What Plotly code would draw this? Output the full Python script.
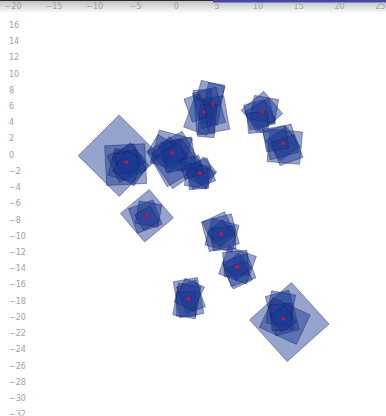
import numpy as np
import plotly.graph_objects as go

# Cluster centres (red markers)
dot_x = [-6.1, -0.5, 2.9, 3.4, 4.5, 10.5, 13.1, -3.6, 5.5, 7.5, 1.5, 13.1]
dot_y = [-0.9, 0.25, -2.3, 5.3, 6.3, 5.3, 1.4, -7.5, -9.75, -13.8, -17.8, -20.2]

# Tiles: centre, width, height, rotation (degrees)
sq_x = [
    -7.0, -6.2, -6.1, -6.3, -5.8, -6.0, -5.6,
    -0.2, -0.6, 0.3, -0.8, -0.5, -1.8, 0.1,
    2.9, 2.6, 3.2, 2.7, 3.3, 1.9,
    4.5, 3.4, 4.0, 4.2, 3.0, 4.9, 3.8, 2.4,
    10.5, 10.2, 10.8, 10.3, 10.0,
    13.3, 12.8, 13.1, 12.2, 13.6,
    -3.6, -3.8, -3.4, -3.6,
    5.4, 5.6, 5.2, 5.8, 5.5,
    7.5, 7.7, 7.3, 7.6, 7.5,
    1.5, 1.3, 1.8, 1.2, 1.6,
    13.85, 13.0, 12.8, 13.3, 12.9, 13.1,
]
sq_y = [
    -0.1, -1.2, -1.0, -1.3, -0.6, -0.9, -1.6,
    -0.5, 0.5, 0.0, 0.0, 0.3, 0.8, -1.1,
    -2.3, -2.6, -2.0, -3.0, -2.6, -1.5,
    6.3, 5.3, 5.8, 7.6, 4.8, 5.0, 4.2, 5.8,
    5.3, 5.0, 5.6, 4.8, 4.0,
    1.0, 1.6, 1.4, 2.0, 0.6,
    -7.5, -7.6, -7.3, -7.8,
    -9.6, -9.9, -9.0, -10.3, -9.7,
    -13.6, -14.2, -13.4, -14.8, -13.8,
    -17.6, -18.0, -17.5, -18.4, -17.2,
    -20.6, -19.5, -19.0, -20.5, -20.0, -20.2,
]
sq_w = [
    7.1, 4.9, 3.6, 3.4, 3.0, 2.6, 3.2,
    5.0, 4.2, 3.8, 3.2, 2.6, 2.5, 4.4,
    3.0, 2.8, 2.5, 2.4, 2.2, 2.4,
    2.0, 2.2, 3.0, 3.0, 3.0, 2.6, 2.0, 2.0,
    3.6, 3.2, 3.0, 2.8, 2.5,
    4.0, 3.6, 3.0, 2.8, 3.0,
    4.6, 3.2, 2.8, 2.2,
    3.8, 3.4, 3.0, 2.8, 2.4,
    3.6, 3.2, 3.0, 2.6, 2.4,
    3.0, 2.8, 2.5, 2.4, 2.6,
    6.9, 3.0, 3.0, 5.0, 2.6, 2.2,
]
sq_h = [
    7.1, 4.9, 3.6, 3.4, 3.0, 2.6, 3.2,
    5.0, 4.2, 3.8, 3.2, 2.6, 2.5, 4.4,
    3.0, 2.8, 2.5, 2.4, 2.2, 2.4,
    5.0, 5.5, 4.5, 2.5, 4.0, 4.2, 4.0, 3.0,
    3.6, 3.2, 3.0, 2.8, 2.5,
    4.0, 3.6, 3.0, 2.8, 3.0,
    4.6, 3.2, 2.8, 2.2,
    3.8, 3.4, 3.0, 2.8, 2.4,
    3.6, 3.2, 3.0, 2.6, 2.4,
    4.5, 4.0, 3.5, 3.0, 3.2,
    6.9, 5.0, 4.0, 4.0, 3.2, 2.5,
]
sq_angle = [
    45, 3, 25, -15, 40, 10, 55,
    30, -15, 10, 45, 20, 60, 35,
    20, -10, 40, 5, 60, 15,
    -10, 5, 15, -15, -20, 10, -5, 20,
    40, 15, -10, 30, 5,
    -5, 15, 35, 10, 20,
    40, 20, -10, 30,
    15, -15, 25, 5, 40,
    -20, 20, 5, 25, 40,
    10, -10, 20, 0, -25,
    42, 15, -10, -25, 5, 35,
]

x_ticks = list(range(-20, 30, 5))
y_ticks = list(range(-32, 18, 2))

TILE_FILL = "rgba(25,55,145,0.46)"
TILE_LINE = "rgba(15,25,80,0.5)"


def tile_path(cx, cy, w, h, deg):
    t = np.deg2rad(deg)
    c, s = np.cos(t), np.sin(t)
    pts = []
    for dx, dy in [(-w / 2, -h / 2), (w / 2, -h / 2), (w / 2, h / 2), (-w / 2, h / 2)]:
        pts.append((cx + dx * c - dy * s, cy + dx * s + dy * c))
    return "M " + " L ".join(f"{px:.4f},{py:.4f}" for px, py in pts) + " Z"


shapes = []
for cx, cy, w, h, a in zip(sq_x, sq_y, sq_w, sq_h, sq_angle):
    shapes.append(dict(
        type="path", xref="x", yref="y", path=tile_path(cx, cy, w, h, a),
        fillcolor=TILE_FILL, line=dict(color=TILE_LINE, width=0.8), layer="below",
    ))

# Header shading strip along the top edge
H = 416.0
shapes.append(dict(type="rect", xref="paper", yref="paper", x0=0, x1=1,
                   y0=1 - 1 / H, y1=1, fillcolor="#2a2a2a", line_width=0, layer="below"))
for i in range(1, 14):
    g = int(190 + (255 - 190) * i / 13)
    shapes.append(dict(type="rect", xref="paper", yref="paper", x0=0, x1=1,
                       y0=1 - (i + 1) / H, y1=1 - i / H,
                       fillcolor=f"rgb({g},{g},{g})", line_width=0, layer="below"))
shapes.append(dict(type="rect", xref="paper", yref="paper", x0=213 / 386, x1=1,
                   y0=1 - 2.5 / H, y1=1, fillcolor="#4646a8", line_width=0, layer="below"))

fig = go.Figure()
fig.add_trace(go.Scatter(
    x=dot_x, y=dot_y, mode="markers",
    marker=dict(color="#e0102a", size=3.5, line_width=0),
    hoverinfo="skip", showlegend=False,
))

tick_font = dict(family="DejaVu Sans", size=8, color="#a0a0a0")
fig.update_layout(
    width=386, height=416,
    margin=dict(l=0, r=0, t=0, b=0, autoexpand=False),
    paper_bgcolor="white", plot_bgcolor="white",
    shapes=shapes,
    showlegend=False,
    xaxis=dict(
        range=[-21.6, 25.7], side="top", tickvals=x_ticks,
        ticklabelposition="inside", ticklabeloverflow="allow", automargin=False,
        ticks="", showgrid=False, zeroline=False,
        showline=False, tickfont=tick_font, fixedrange=True,
    ),
    yaxis=dict(
        range=[-32.2, 19.1], tickvals=y_ticks,
        ticklabelposition="inside", ticklabeloverflow="allow", automargin=False,
        ticks="", showgrid=False, zeroline=False,
        showline=False, tickfont=tick_font, ticklabelstandoff=6, fixedrange=True,
    ),
)

fig.write_html("out.html")
